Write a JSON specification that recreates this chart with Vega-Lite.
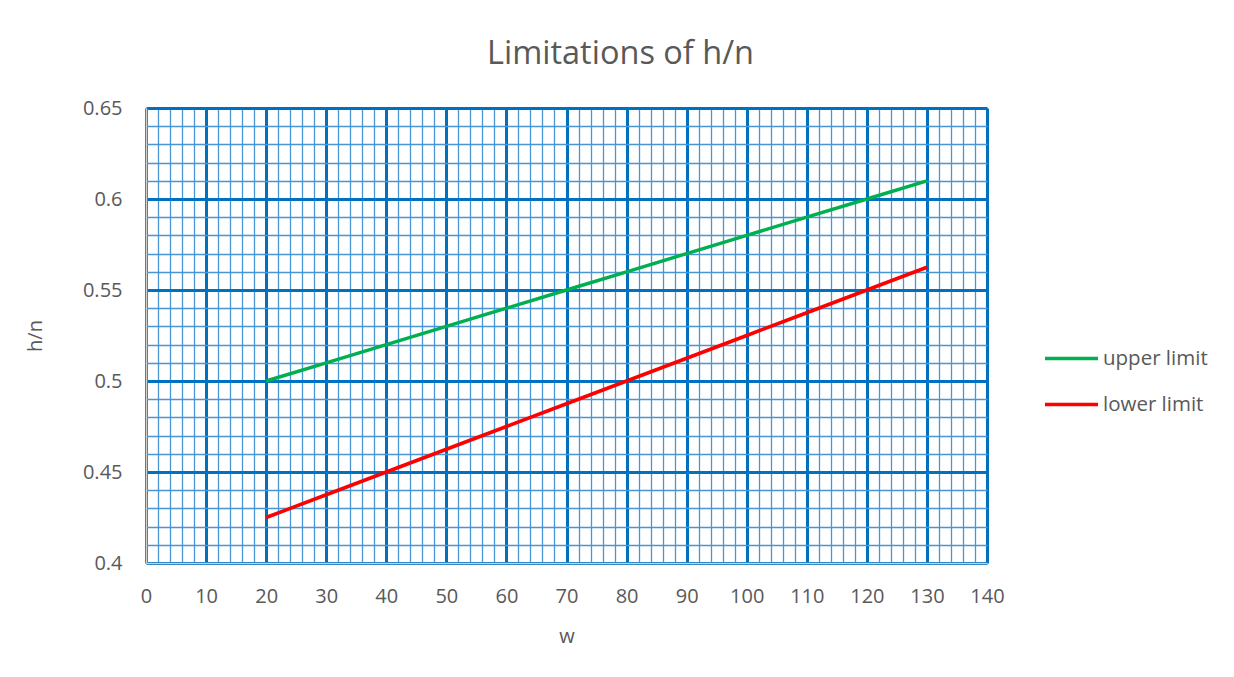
{
  "$schema": "https://vega.github.io/schema/vega-lite/v6.json",
  "width": 841,
  "height": 455,
  "autosize": {"type": "none"},
  "padding": {"left": 146, "top": 108, "right": 247, "bottom": 114},
  "background": "white",
  "config": {
    "font": "Open Sans",
    "view": {"stroke": null},
    "axis": {"labelFont": "Open Sans", "titleFont": "Open Sans", "labelColor": "#595959", "titleColor": "#595959", "titleFontWeight": "normal"}
  },
  "title": {"text": "Limitations of h/n", "fontSize": 32.5, "font": "Open Sans", "fontWeight": "normal", "color": "#595959", "offset": 28, "dx": 54},
  "data": {
    "values": [
      {"w": 20, "hn": 0.5, "series": "upper limit"},
      {"w": 30, "hn": 0.51, "series": "upper limit"},
      {"w": 40, "hn": 0.52, "series": "upper limit"},
      {"w": 50, "hn": 0.53, "series": "upper limit"},
      {"w": 60, "hn": 0.54, "series": "upper limit"},
      {"w": 70, "hn": 0.55, "series": "upper limit"},
      {"w": 80, "hn": 0.56, "series": "upper limit"},
      {"w": 90, "hn": 0.57, "series": "upper limit"},
      {"w": 100, "hn": 0.58, "series": "upper limit"},
      {"w": 110, "hn": 0.59, "series": "upper limit"},
      {"w": 120, "hn": 0.6, "series": "upper limit"},
      {"w": 130, "hn": 0.61, "series": "upper limit"},
      {"w": 20, "hn": 0.425, "series": "lower limit"},
      {"w": 30, "hn": 0.4375, "series": "lower limit"},
      {"w": 40, "hn": 0.45, "series": "lower limit"},
      {"w": 50, "hn": 0.4625, "series": "lower limit"},
      {"w": 60, "hn": 0.475, "series": "lower limit"},
      {"w": 70, "hn": 0.4875, "series": "lower limit"},
      {"w": 80, "hn": 0.5, "series": "lower limit"},
      {"w": 90, "hn": 0.5125, "series": "lower limit"},
      {"w": 100, "hn": 0.525, "series": "lower limit"},
      {"w": 110, "hn": 0.5375, "series": "lower limit"},
      {"w": 120, "hn": 0.55, "series": "lower limit"},
      {"w": 130, "hn": 0.5625, "series": "lower limit"}
    ]
  },
  "layer": [
    {
      "mark": {"type": "line", "strokeOpacity": 0},
      "encoding": {
        "x": {"field": "w", "type": "quantitative", "scale": {"domain": [0, 140], "nice": false, "zero": false},
          "axis": {"orient": "bottom", "title": null, "labels": false, "ticks": false, "domain": false, "grid": true,
            "values": [2,4,6,8,12,14,16,18,22,24,26,28,32,34,36,38,42,44,46,48,52,54,56,58,62,64,66,68,72,74,76,78,82,84,86,88,92,94,96,98,102,104,106,108,112,114,116,118,122,124,126,128,132,134,136,138],
            "gridColor": "#4a95d4", "gridWidth": 1.3, "gridOpacity": 1}},
        "y": {"field": "hn", "type": "quantitative", "scale": {"domain": [0.4, 0.65], "nice": false, "zero": false},
          "axis": {"orient": "left", "title": null, "labels": false, "ticks": false, "domain": false, "grid": true,
            "values": [0.41,0.42,0.43,0.44,0.46,0.47,0.48,0.49,0.51,0.52,0.53,0.54,0.56,0.57,0.58,0.59,0.61,0.62,0.63,0.64],
            "gridColor": "#4a95d4", "gridWidth": 1.3, "gridOpacity": 1}},
        "detail": {"field": "series"}
      }
    },
    {
      "mark": {"type": "line", "strokeWidth": 3.5},
      "encoding": {
        "x": {"field": "w", "type": "quantitative", "scale": {"domain": [0, 140], "nice": false, "zero": false},
          "axis": {"orient": "bottom", "title": "w", "titleFontSize": 20, "titlePadding": 20, "labelFontSize": 20, "labelPadding": 23,
            "labelFlush": false, "labelOverlap": false,
            "ticks": false, "domain": true, "domainColor": "#d0d0d0", "domainWidth": 1.5, "grid": true,
            "values": [0,10,20,30,40,50,60,70,80,90,100,110,120,130,140],
            "gridColor": "#0070C0", "gridWidth": 3, "gridOpacity": 1}},
        "y": {"field": "hn", "type": "quantitative", "scale": {"domain": [0.4, 0.65], "nice": false, "zero": false},
          "axis": {"orient": "left", "title": "h/n", "titleFontSize": 20, "titlePadding": 37, "labelFontSize": 20, "labelPadding": 24,
            "labelFlush": false, "labelOverlap": false,
            "ticks": false, "domain": true, "domainColor": "#d0d0d0", "domainWidth": 1.5, "grid": true,
            "values": [0.4, 0.45, 0.5, 0.55, 0.6, 0.65], "format": "~g",
            "gridColor": "#0070C0", "gridWidth": 3, "gridOpacity": 1}},
        "color": {"field": "series", "type": "nominal", "sort": ["upper limit", "lower limit"],
          "scale": {"domain": ["upper limit", "lower limit"], "range": ["#00B050", "#FF0000"]},
          "legend": {"title": null, "orient": "none", "legendX": 897, "legendY": 222, "symbolType": "stroke", "symbolSize": 2809,
            "symbolStrokeWidth": 3.5, "labelFontSize": 20.5, "labelColor": "#595959", "labelFont": "Open Sans", "rowPadding": 7, "labelOffset": 3}}
      }
    }
  ],
  "resolve": {"axis": {"x": "independent", "y": "independent"}}
}
